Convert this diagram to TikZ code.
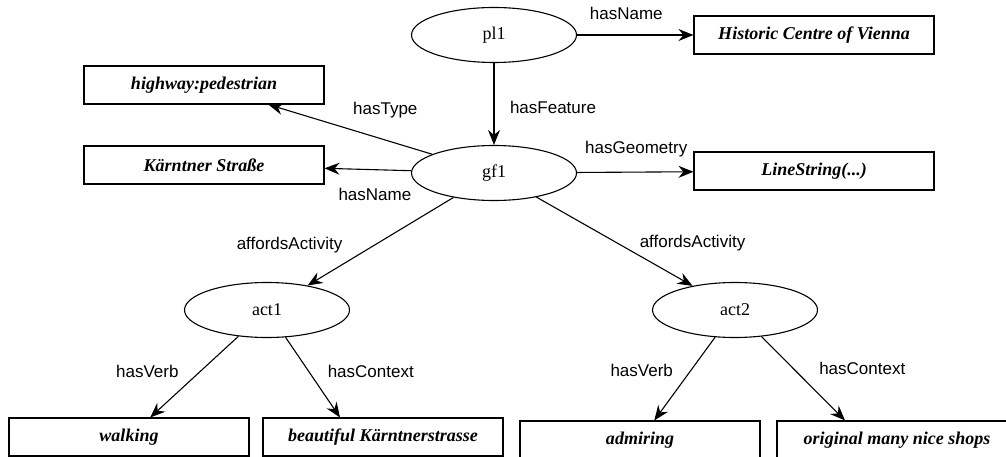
\documentclass[tikz,border=0pt]{standalone}
\usepackage{fontspec}
\setmainfont{Liberation Serif}
\newfontfamily\propfont{Liberation Sans}
\usetikzlibrary{arrows.meta, positioning, shapes.geometric}

\tikzset{
	graphpicture/.style = {
		x = 1pt,
		y = -1pt,
		arrow/.style = {
			draw,
			line width = 1.1pt,
			-{Stealth[length=15pt, width=12pt, inset=5pt]},
		}
	},
	resource/.style = {
		ellipse,
		draw = black,
		line width = 1.1pt,
		minimum width = 165pt,
		minimum height = 55pt,
		inner sep = 0pt,
		font = \fontsize{18}{20}\selectfont
	},
	literal/.style = {
		rectangle,
		draw = black,
		line width = 1.1pt,
		minimum width = 240pt,
		minimum height = 38pt,
		inner sep = 0pt,
		font = \fontsize{18}{20}\selectfont\bfseries\itshape
	},
	prop/.style = {
		font = \propfont\fontsize{17}{19}\selectfont
	}
}

\begin{document}
\begin{tikzpicture}[graphpicture]
	\useasboundingbox[fill = white] (0,0) rectangle (1006,457);

	\node[resource] (pl1) at (494,35) {pl1};
	\node[literal] (hist) at (814,35) {Historic Centre of Vienna};

	\node[resource] (gf1) at (494,173) {gf1};
	\node[literal] (type) at (204,85) {highway:pedestrian};
	\node[literal] (street) at (204,165) {Kärntner Straße};
	\node[literal] (geom) at (814,171) {LineString(...)};

	\node[resource] (act1) at (267,310) {act1};
	\node[resource] (act2) at (735,310) {act2};

	\node[literal] (verb1) at (129,437) {walking};
	\node[literal] (ctx1) at (383,437) {beautiful Kärntnerstrasse};
	\node[literal] (verb2) at (640,440) {admiring};
	\node[literal] (ctx2) at (897,440) {original many nice shops};

	\begin{scope}[every path/.style = arrow]
		\path (pl1) to node[prop, xshift = -9pt, yshift = 22pt] {hasName} (hist);
		\path (pl1) to node[prop, xshift = 59pt, yshift = -3pt] {hasFeature} (gf1);

		\path (gf1) to node[prop, xshift = 35pt, yshift = 19pt] {hasType} (type);
		\path (gf1) to node[prop, xshift = 7pt, yshift = -25pt] {hasName} (street);
		\path (gf1) to node[prop, xshift = 1pt, yshift = 23pt] {hasGeometry} (geom);

		\path (gf1) to node[prop, xshift = -91pt, yshift = -4pt] {affordsActivity} (act1);
		\path (gf1) to node[prop, xshift = 78pt, yshift = -2pt] {affordsActivity} (act2);

		\path (act1) to node[prop, xshift = -47pt, yshift = 5pt] {hasVerb} (verb1);
		\path (act1) to node[prop, xshift = 58pt, yshift = 6pt] {hasContext} ([xshift = -43pt]ctx1.north);
		\path (act2) to node[prop, xshift = -43pt, yshift = 8pt] {hasVerb} (verb2);
		\path (act2) to node[prop, xshift = 59pt, yshift = 10pt] {hasContext} ([xshift = -52pt]ctx2.north);
	\end{scope}
\end{tikzpicture}
\end{document}
